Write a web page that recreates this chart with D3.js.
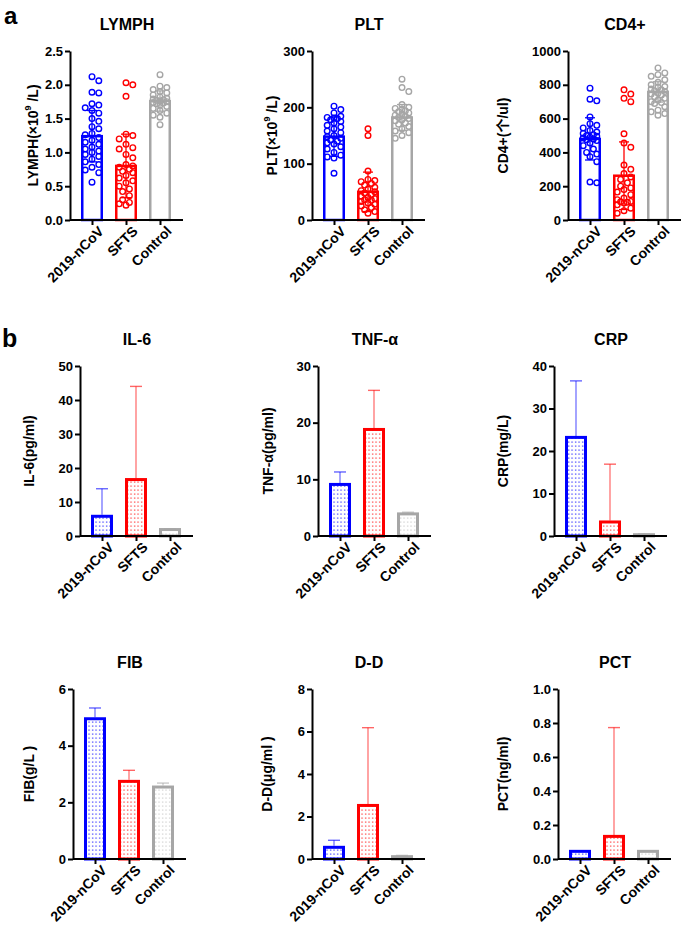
<!DOCTYPE html>
<html>
<head>
<meta charset="utf-8">
<script src="https://cdn.jsdelivr.net/npm/d3@7"></script>
<style>
  body { margin: 0; background: #fff; }
  svg text { font-family: "Liberation Sans", Arial, "Noto Sans CJK SC", sans-serif; font-weight: bold; fill: #000; }
</style>
</head>
<body>
<svg id="stage" width="685" height="928"></svg>
<script>
const groups = ["2019-nCoV", "SFTS", "Control"];
const colors = ["#0000ff", "#ff0000", "#a6a6a6"];

// Panel a: individual values plus mean / SD bars
const lymphNcov = [2.12, 2.06, 1.89, 1.88, 1.72, 1.7, 1.66, 1.62, 1.58, 1.5, 1.46, 1.38, 1.35, 1.28, 1.26, 1.22, 1.18, 1.15, 1.12, 1.08, 1.05, 1.02, 1.0, 0.97, 0.94, 0.9, 0.86, 0.82, 0.78, 0.74, 0.7, 0.56];
const lymphSfts = [2.03, 2.0, 1.83, 1.27, 1.25, 1.2, 1.12, 1.07, 1.05, 0.97, 0.92, 0.82, 0.8, 0.78, 0.75, 0.72, 0.7, 0.66, 0.62, 0.58, 0.55, 0.5, 0.46, 0.42, 0.36, 0.3, 0.26, 0.24, 0.22];
const lymphCtrl = [2.15, 1.98, 1.96, 1.93, 1.9, 1.88, 1.85, 1.82, 1.8, 1.79, 1.78, 1.77, 1.76, 1.75, 1.74, 1.73, 1.72, 1.7, 1.68, 1.65, 1.62, 1.58, 1.55, 1.52, 1.41];
const lymphMean = [1.24, 0.8, 1.76];
const lymphSd = [0.38, 0.47, 0.15];

const pltNcov = [202, 196, 190, 184, 182, 181, 180, 178, 175, 172, 168, 165, 162, 158, 155, 150, 148, 145, 142, 140, 137, 135, 130, 126, 120, 115, 112, 110, 83];
const pltSfts = [162, 150, 87, 72, 70, 68, 65, 62, 58, 55, 52, 50, 48, 45, 42, 40, 38, 36, 35, 33, 30, 28, 25, 22, 18, 15, 12];
const pltCtrl = [250, 235, 228, 205, 200, 198, 196, 194, 192, 190, 188, 186, 184, 182, 180, 178, 176, 172, 170, 166, 162, 158, 155, 150, 145];
const pltMean = [148, 50, 182];
const pltSd = [35, 35, 23];

const cd4Ncov = [780, 715, 705, 610, 570, 560, 545, 530, 520, 512, 505, 500, 495, 490, 485, 480, 475, 470, 455, 440, 420, 400, 390, 375, 345, 225, 220];
const cd4Sfts = [770, 745, 720, 700, 510, 455, 430, 325, 300, 275, 255, 240, 220, 200, 190, 180, 165, 150, 130, 120, 110, 108, 105, 100, 90, 70, 55, 40];
const cd4Ctrl = [900, 870, 860, 850, 830, 815, 800, 790, 785, 775, 770, 765, 760, 750, 745, 740, 730, 720, 710, 700, 695, 690, 670, 650, 640, 630, 620];
const cd4Mean = [480, 262, 758];
const cd4Sd = [125, 200, 60];

// Panel b: mean and upper SD
const il6Mean = [5.8, 16.6, 1.9], il6Sd = [8.1, 27.4, 0.2];
const tnfMean = [9.1, 18.8, 3.9], tnfSd = [2.2, 6.9, 0.3];
const crpMean = [23.2, 3.3, 0.3], crpSd = [13.3, 13.6, 0.2];
const fibMean = [4.95, 2.74, 2.54], fibSd = [0.38, 0.39, 0.14];
const ddMean = [0.55, 2.52, 0.11], ddSd = [0.33, 3.66, 0.06];
const pctMean = [0.045, 0.133, 0.045], pctSd = [0, 0.64, 0];

// Tick labels
const lymphTicks = [0, 0.5, 1, 1.5, 2, 2.5];
const pltTicks = [0, 100, 200, 300];
const cd4Ticks = [0, 200, 400, 600, 800, 1000];
const il6Ticks = [0, 10, 20, 30, 40, 50];
const tnfTicks = [0, 10, 20, 30];
const crpTicks = [0, 10, 20, 30, 40];
const fibTicks = [0, 2, 4, 6];
const ddTicks = [0, 2, 4, 6, 8];
const pctTicks = [0, 0.2, 0.4, 0.6, 0.8, 1.0];

const panels = [
  { title: "LYMPH", label: ["LYMPH(×10", "9", " /L)"], ticks: lymphTicks, fmt: ".1f", points: [lymphNcov, lymphSfts, lymphCtrl], mean: lymphMean, sd: lymphSd, ax: 70, top: 51, zero: 220, lx: 33 },
  { title: "PLT", label: ["PLT(×10", "9", " /L)"], ticks: pltTicks, fmt: "d", points: [pltNcov, pltSfts, pltCtrl], mean: pltMean, sd: pltSd, ax: 312, top: 51, zero: 220, lx: 272 },
  { title: "CD4+", label: ["CD4+(个/ul)"], ticks: cd4Ticks, fmt: "d", points: [cd4Ncov, cd4Sfts, cd4Ctrl], mean: cd4Mean, sd: cd4Sd, ax: 568, top: 51, zero: 220, lx: 503 },
  { title: "IL-6", label: ["IL-6(pg/ml)"], ticks: il6Ticks, fmt: "d", mean: il6Mean, sd: il6Sd, ax: 80, top: 366, zero: 536, lx: 29 },
  { title: "TNF-α", label: ["TNF-α(pg/ml)"], ticks: tnfTicks, fmt: "d", mean: tnfMean, sd: tnfSd, ax: 318, top: 366, zero: 536, lx: 268 },
  { title: "CRP", label: ["CRP(mg/L)"], ticks: crpTicks, fmt: "d", mean: crpMean, sd: crpSd, ax: 554, top: 366, zero: 536, lx: 503 },
  { title: "FIB", label: ["FIB(g/L )"], ticks: fibTicks, fmt: "d", mean: fibMean, sd: fibSd, ax: 73, top: 689, zero: 859, lx: 29 },
  { title: "D-D", label: ["D-D(μg/ml )"], ticks: ddTicks, fmt: "d", mean: ddMean, sd: ddSd, ax: 312, top: 689, zero: 859, lx: 267 },
  { title: "PCT", label: ["PCT(ng/ml)"], ticks: pctTicks, fmt: ".1f", mean: pctMean, sd: pctSd, ax: 558, top: 689, zero: 859, lx: 503 },
];

const svg = d3.select("#stage");
const defs = svg.append("defs");

// dotted fill patterns for panel b bars
colors.forEach((c, i) => {
  const p = defs.append("pattern")
    .attr("id", "dots" + i)
    .attr("patternUnits", "userSpaceOnUse")
    .attr("width", 3.5).attr("height", 4);
  p.append("rect").attr("width", 3.5).attr("height", 4).attr("fill", "#fff");
  p.append("rect").attr("x", 1).attr("y", 1.5).attr("width", 1.2).attr("height", 1.2)
    .attr("fill", c).attr("opacity", i === 2 ? 0.6 : 0.85);
});

// beeswarm offsets: keep points from stacking on top of each other
const swarm = (ys, r, maxOff) => {
  const order = ys.map((y, i) => i).sort((a, b) => ys[a] - ys[b]);
  const offs = new Array(ys.length).fill(0);
  const placed = [];
  const cands = [0];
  for (let k = 1; k * r <= maxOff; k++) cands.push(k * r, -k * r);
  for (const i of order) {
    let best = 0, bestD = -1;
    for (const c of cands) {
      let dmin = Infinity;
      for (const j of placed) dmin = Math.min(dmin, Math.hypot(offs[j] - c, ys[j] - ys[i]));
      if (dmin >= r * 1.9) { best = c; bestD = Infinity; break; }
      if (dmin > bestD) { bestD = dmin; best = c; }
    }
    offs[i] = best;
    placed.push(i);
  }
  return offs;
};

panels.forEach((p, pi) => {
  const g = svg.append("g");
  const x = d3.scalePoint().domain(groups).range([p.ax + 22, p.ax + 90]);
  const y = d3.scaleLinear().domain([p.ticks[0], p.ticks[p.ticks.length - 1]]).range([p.zero, p.top]);
  const isA = !!p.points;

  // bars
  g.selectAll("rect.bar")
    .data(p.mean)
    .enter()
    .append("rect")
    .attr("class", "bar")
    .attr("x", (d, i) => x(groups[i]) - (isA ? 9.75 : 9.5))
    .attr("width", isA ? 19.5 : 19)
    .attr("y", (d) => y(d))
    .attr("height", (d) => p.zero - y(d))
    .attr("fill", (d, i) => (isA ? "#fff" : `url(#dots${i})`))
    .attr("stroke", (d, i) => colors[i])
    .attr("stroke-width", isA ? 2.5 : 3);

  if (isA) {
    p.points.forEach((vals, gi) => {
      const ys = vals.map((v) => y(v));
      const offs = swarm(ys, 3.4, 8);
      g.selectAll(null)
        .data(vals)
        .enter()
        .append("circle")
        .attr("cx", (d, i) => x(groups[gi]) + offs[i])
        .attr("cy", (d) => y(d))
        .attr("r", 2.8)
        .attr("fill", "none")
        .attr("stroke", colors[gi])
        .attr("stroke-width", 1.4);
    });
    // mean ± SD
    p.mean.forEach((m, i) => {
      const cx = x(groups[i]);
      const y1 = y(m + p.sd[i]), y0 = y(Math.max(0, m - p.sd[i]));
      g.append("line").attr("x1", cx).attr("x2", cx).attr("y1", y1).attr("y2", y0)
        .attr("stroke", colors[i]).attr("stroke-width", 1.3);
      [y1, y0].forEach((yy) =>
        g.append("line").attr("x1", cx - 5).attr("x2", cx + 5).attr("y1", yy).attr("y2", yy)
          .attr("stroke", colors[i]).attr("stroke-width", 1.3));
    });
  } else {
    p.mean.forEach((m, i) => {
      if (!p.sd[i]) return;
      const cx = x(groups[i]);
      const y1 = y(m + p.sd[i]), y0 = y(m) - 1.5;
      g.append("line").attr("x1", cx).attr("x2", cx).attr("y1", y1).attr("y2", y0)
        .attr("stroke", colors[i]).attr("stroke-opacity", 0.6).attr("stroke-width", 1.2);
      g.append("line").attr("x1", cx - 6).attr("x2", cx + 6).attr("y1", y1).attr("y2", y1)
        .attr("stroke", colors[i]).attr("stroke-opacity", 0.6).attr("stroke-width", 1.4);
    });
  }

  // y axis
  const yAxis = g.append("g")
    .attr("transform", `translate(${p.ax},0)`)
    .call(d3.axisLeft(y).tickValues(p.ticks).tickFormat(d3.format(p.fmt)).tickSize(5).tickSizeOuter(0).tickPadding(2));
  yAxis.select(".domain").attr("stroke", "#000").attr("stroke-width", 2);
  yAxis.selectAll(".tick line").attr("stroke", "#000").attr("stroke-width", 2);
  yAxis.selectAll("text").attr("font-size", 13).attr("fill", "#000");

  // x axis
  const xAxis = g.append("g")
    .attr("transform", `translate(0,${p.zero})`)
    .call(d3.axisBottom(x).tickSize(5).tickSizeOuter(0));
  xAxis.select(".domain").attr("d", `M${p.ax},0H${p.ax + 113}`).attr("stroke", "#000").attr("stroke-width", 2);
  xAxis.selectAll(".tick line").attr("stroke", "#000").attr("stroke-width", 2);
  xAxis.selectAll("text")
    .attr("font-size", 14)
    .attr("text-anchor", "end")
    .attr("transform", "translate(5,5) rotate(-45)")
    .attr("x", 0).attr("y", 0).attr("dy", "0.71em");

  // title
  g.append("text")
    .attr("x", p.ax + 57)
    .attr("y", p.top - 21)
    .attr("text-anchor", "middle")
    .attr("font-size", 16)
    .text(p.title);

  // y label
  const lab = g.append("text")
    .attr("transform", `translate(${p.lx},${(p.top + p.zero) / 2}) rotate(-90)`)
    .attr("text-anchor", "middle")
    .attr("dy", "0.35em")
    .attr("font-size", 14);
  lab.append("tspan").text(p.label[0]);
  if (p.label.length > 1) {
    lab.append("tspan").attr("font-size", 9).attr("dy", "-0.8em").text(p.label[1]);
    lab.append("tspan").attr("dy", "0.55em").text(p.label[2]);
  }
});

svg.append("text").attr("x", 4).attr("y", 24).attr("font-size", 24).text("a");
svg.append("text").attr("x", 2).attr("y", 347).attr("font-size", 25).text("b");
</script>
</body>
</html>
